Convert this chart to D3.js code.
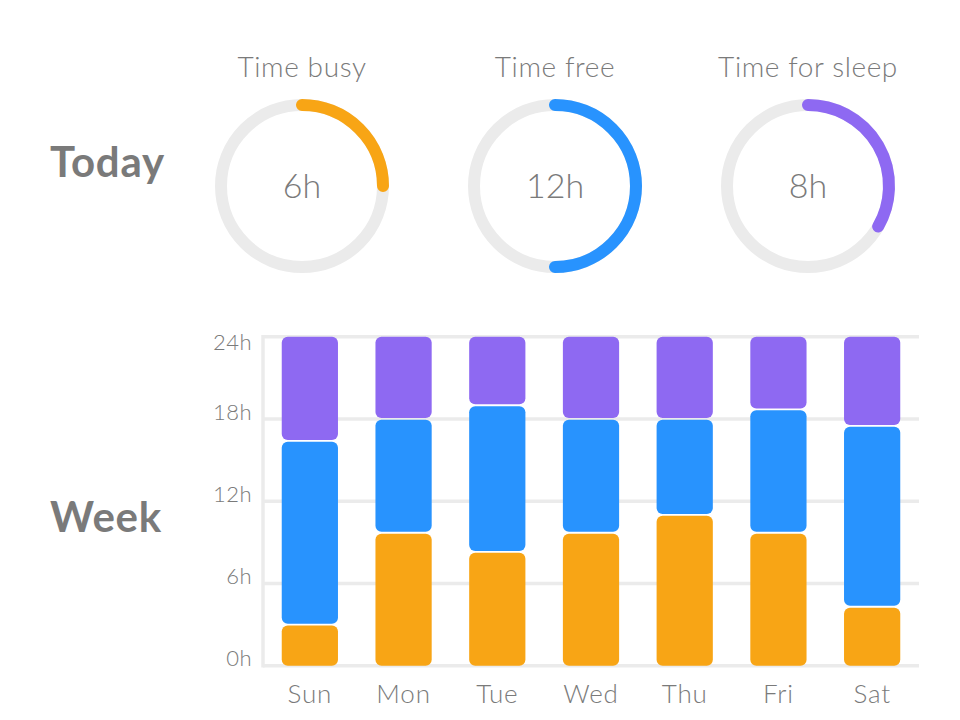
<!DOCTYPE html>
<html>
<head>
<meta charset="utf-8">
<script src="https://cdn.jsdelivr.net/npm/d3@7"></script>
<style>
  body { margin: 0; background: #fff; }
  svg text { font-family: "Lato", "Open Sans", sans-serif; fill: #7a7a7a; font-weight: 300; }
</style>
</head>
<body>
<div id="chart"></div>
<script>
// today's gauges
var gaugeLabels = ["Time busy", "Time free", "Time for sleep"];
var gaugeHours = [6, 12, 8];

// week stack
var days = ["Sun", "Mon", "Tue", "Wed", "Thu", "Fri", "Sat"];
var busy = [3, 9.7, 8.3, 9.7, 11, 9.7, 4.3];
var free = [13.4, 8.3, 10.7, 8.3, 7, 9, 13.2];
var sleep = [7.6, 6, 5, 6, 6, 5.3, 6.5];
var yTicks = [0, 6, 12, 18, 24];

var colors = ["#f8a515", "#2893fe", "#8e69f2"];
var grey = "#ebebeb";

var svgWidth = 960;
var svgHeight = 720;

var svg = d3.select("#chart")
    .append("svg")
    .attr("width", svgWidth)
    .attr("height", svgHeight);

// section titles
svg.append("text")
    .attr("x", 50)
    .attr("y", 177)
    .attr("font-size", 42)
    .attr("letter-spacing", 0.8)
    .style("font-weight", 700)
    .text("Today");

svg.append("text")
    .attr("x", 50)
    .attr("y", 532)
    .attr("font-size", 42)
    .attr("letter-spacing", 0.8)
    .style("font-weight", 700)
    .text("Week");

// Gauges
var gx = d3.scalePoint()
    .domain(gaugeLabels)
    .range([302, 808]);
var gaugeAngle = d3.scaleLinear().domain([0, 24]).range([0, 2 * Math.PI]);
var gr = 81;
var gcy = 186;

var gauges = svg.selectAll(".gauge")
    .data(gaugeLabels)
    .enter()
    .append("g")
    .attr("class", "gauge")
    .attr("transform", d => `translate(${gx(d)}, ${gcy})`);

gauges.append("circle")
    .attr("r", gr)
    .attr("fill", "none")
    .attr("stroke", grey)
    .attr("stroke-width", 12);

gauges.append("path")
    .attr("d", function(d, i) {
      var p = d3.path();
      var a = gaugeAngle(gaugeHours[i]);
      p.arc(0, 0, gr, -Math.PI / 2, -Math.PI / 2 + a);
      return p.toString();
    })
    .attr("fill", "none")
    .attr("stroke", (d, i) => colors[i])
    .attr("stroke-width", 12)
    .attr("stroke-linecap", "round");

gauges.append("text")
    .attr("y", -109)
    .attr("text-anchor", "middle")
    .attr("font-size", 28)
    .attr("letter-spacing", 0.6)
    .text(d => d);

gauges.append("text")
    .attr("y", 12)
    .attr("text-anchor", "middle")
    .attr("font-size", 34)
    .text((d, i) => gaugeHours[i] + "h");

// Week chart
var x0 = 263, x1 = 919, yTop = 336.7, yBot = 665.7;

var xBand = d3.scaleBand()
    .domain(days)
    .range([x0, x1])
    .paddingInner(0.4)
    .paddingOuter(0.2);

var yScale = d3.scaleLinear()
    .domain([0, 24])
    .range([yBot, yTop]);

// gridlines
svg.selectAll(".grid")
    .data(yTicks)
    .enter()
    .append("line")
    .attr("class", "grid")
    .attr("x1", x0)
    .attr("x2", x1)
    .attr("y1", d => yScale(d))
    .attr("y2", d => yScale(d))
    .attr("stroke", grey)
    .attr("stroke-width", 3.5);

svg.append("line")
    .attr("x1", x0)
    .attr("x2", x0)
    .attr("y1", yScale(24) - 1.75)
    .attr("y2", yScale(0) + 1.75)
    .attr("stroke", grey)
    .attr("stroke-width", 3.5);

// tick labels sit a bit above their line, kept inside the plot
svg.selectAll(".ylab")
    .data(yTicks)
    .enter()
    .append("text")
    .attr("class", "ylab")
    .attr("x", 252)
    .attr("y", d => Math.min(Math.max(yScale(d) - 7, yTop + 6), yBot - 1))
    .attr("dy", "0.35em")
    .attr("text-anchor", "end")
    .attr("font-size", 22)
    .attr("letter-spacing", 0.5)
    .text(d => d + "h");

var rows = days.map((d, i) => ({day: d, busy: busy[i], free: free[i], sleep: sleep[i]}));
var stack = d3.stack().keys(["busy", "free", "sleep"])(rows);

var gap = 0.9;
stack.forEach(function(layer, k) {
  svg.append("g")
    .selectAll("rect")
    .data(layer)
    .enter()
    .append("rect")
    .attr("x", d => xBand(d.data.day))
    .attr("width", xBand.bandwidth())
    .attr("y", d => yScale(d[1]) + (k < 2 ? gap : 0))
    .attr("height", d => yScale(d[0]) - yScale(d[1]) - (k < 2 ? gap : 0) - (k > 0 ? gap : 0))
    .attr("rx", 6)
    .attr("fill", colors[k]);
});

svg.selectAll(".xlab")
    .data(days)
    .enter()
    .append("text")
    .attr("class", "xlab")
    .attr("x", d => xBand(d) + xBand.bandwidth() / 2)
    .attr("y", 703)
    .attr("text-anchor", "middle")
    .attr("font-size", 26)
    .attr("letter-spacing", 0.8)
    .text(d => d);
</script>
</body>
</html>
